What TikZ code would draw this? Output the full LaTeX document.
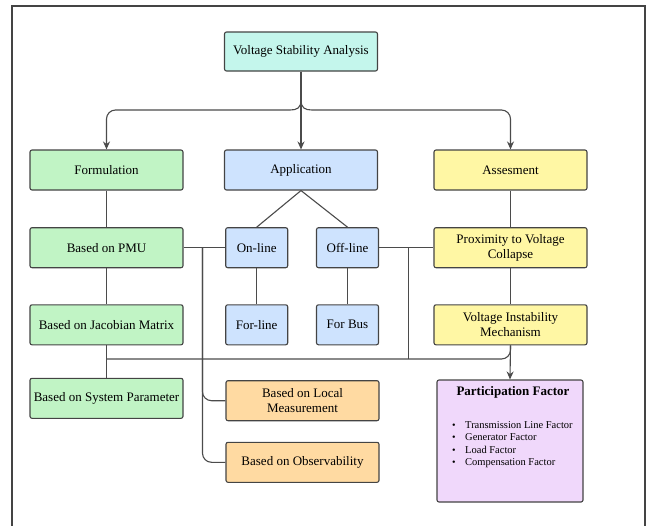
\documentclass[tikz,border=0pt]{standalone}
\usepackage{fontspec}
\setmainfont{Liberation Serif}
\usetikzlibrary{arrows.meta}
\definecolor{tealfill}{RGB}{196,246,236}
\definecolor{greenfill}{RGB}{193,244,197}
\definecolor{bluefill}{RGB}{206,227,254}
\definecolor{yellowfill}{RGB}{255,247,164}
\definecolor{orangefill}{RGB}{255,218,162}
\definecolor{purplefill}{RGB}{240,216,251}
\definecolor{edgegray}{RGB}{68,68,68}
\definecolor{linegray}{RGB}{75,75,75}
\newcommand{\pfitem}{\makebox[13pt][l]{\fontsize{10}{10}\selectfont\textbullet}}

\begin{document}
\begin{tikzpicture}[x=1pt, y=-1pt,
    box/.style={draw=edgegray, line width=1.1pt, rounded corners=2pt, minimum height=40pt,
                inner sep=2pt, align=center, font=\fontsize{13}{15}\selectfont},
    widebox/.style={box, minimum width=153pt},
    smallbox/.style={box, minimum width=62pt},
    link/.style={draw=linegray, line width=1.1pt},
    arr/.style={link, -{Stealth[length=8pt, width=7pt]}}]
    \useasboundingbox (0,0) rectangle (648,525);
    \draw[edgegray, line width=1.3pt] (12,540) -- (12,6) -- (645,6) -- (645,540);

    \node[widebox, fill=tealfill, minimum height=39pt] (vsa) at (301,51.5) {Voltage Stability Analysis};

    \node[widebox, fill=greenfill] (form) at (106.5,170) {Formulation};
    \node[widebox, fill=bluefill] (app) at (301,170) {Application};
    \node[widebox, fill=yellowfill] (assess) at (510.5,170) {Assesment};

    \node[widebox, fill=greenfill] (pmu) at (106.5,247.7) {Based on PMU};
    \node[smallbox, fill=bluefill] (online) at (256.7,247.7) {On-line};
    \node[smallbox, fill=bluefill] (offline) at (347.5,247.7) {Off-line};
    \node[widebox, fill=yellowfill] (prox) at (510.5,247.7) {Proximity to Voltage\\Collapse};

    \node[widebox, fill=greenfill] (jac) at (106.5,324.8) {Based on Jacobian Matrix};
    \node[smallbox, fill=bluefill] (forline) at (256.7,324.8) {For-line};
    \node[smallbox, fill=bluefill] (forbus) at (347.5,324.8) {For Bus};
    \node[widebox, fill=yellowfill] (vim) at (510.5,324.8) {Voltage Instability\\Mechanism};

    \node[widebox, fill=greenfill] (sys) at (106.5,398.3) {Based on System Parameter};
    \node[widebox, fill=orangefill] (local) at (302.5,400.7) {Based on Local\\Measurement};
    \node[widebox, fill=orangefill] (obs) at (302.5,462.3) {Based on Observability};

    \node[box, fill=purplefill, minimum width=146pt, minimum height=122pt] (part) at (510,441) {};
    \node[font=\fontsize{13}{15}\selectfont\bfseries] (ptitle) at (513,392.7) {Participation Factor};
    \node[anchor=north west, align=left, inner sep=0pt, font=\fontsize{10.5}{12.6}\selectfont] (plist) at (452,421)
        {\pfitem Transmission Line Factor\\ \pfitem Generator Factor\\ \pfitem Load Factor\\ \pfitem Compensation Factor};

    \coordinate (split) at (301,100);
    \draw[link] (vsa.south) -- (split);
    \draw[arr] (split) .. controls (301,108) and (297,110) .. (290,110) [rounded corners=9pt] -- (106.5,110) -- (form.north);
    \draw[arr] (split) .. controls (301,108) and (305,110) .. (312,110) [rounded corners=9pt] -- (510.5,110) -- (assess.north);
    \draw[arr] (vsa.south) -- (app.north);

    \draw[link] (form) -- (pmu);
    \draw[link] (pmu) -- (jac);
    \draw[link] (jac) -- (sys);
    \draw[link] (app.south) -- (online.north);
    \draw[link] (app.south) -- (offline.north);
    \draw[link] (online) -- (forline);
    \draw[link] (offline) -- (forbus);
    \draw[link] (assess) -- (prox);
    \draw[link] (prox) -- (vim);

    \coordinate (jleft) at (202.5,247.7);
    \coordinate (jright) at (408.7,247.7);
    \coordinate (busleft) at (106.5,359);
    \draw[link] (pmu.east) -- (online.west);
    \draw[link] (offline.east) -- (prox.west);
    \draw[link, rounded corners=9pt] (jleft) |- (local.west);
    \draw[link, rounded corners=9pt] (jleft) |- (obs.west);
    \draw[link] (jright) -- (jright |- busleft);
    \draw[link, rounded corners=9pt] (busleft) -| (vim.south);
    \draw[arr] (vim.south) -- (part.north);
\end{tikzpicture}
\end{document}
